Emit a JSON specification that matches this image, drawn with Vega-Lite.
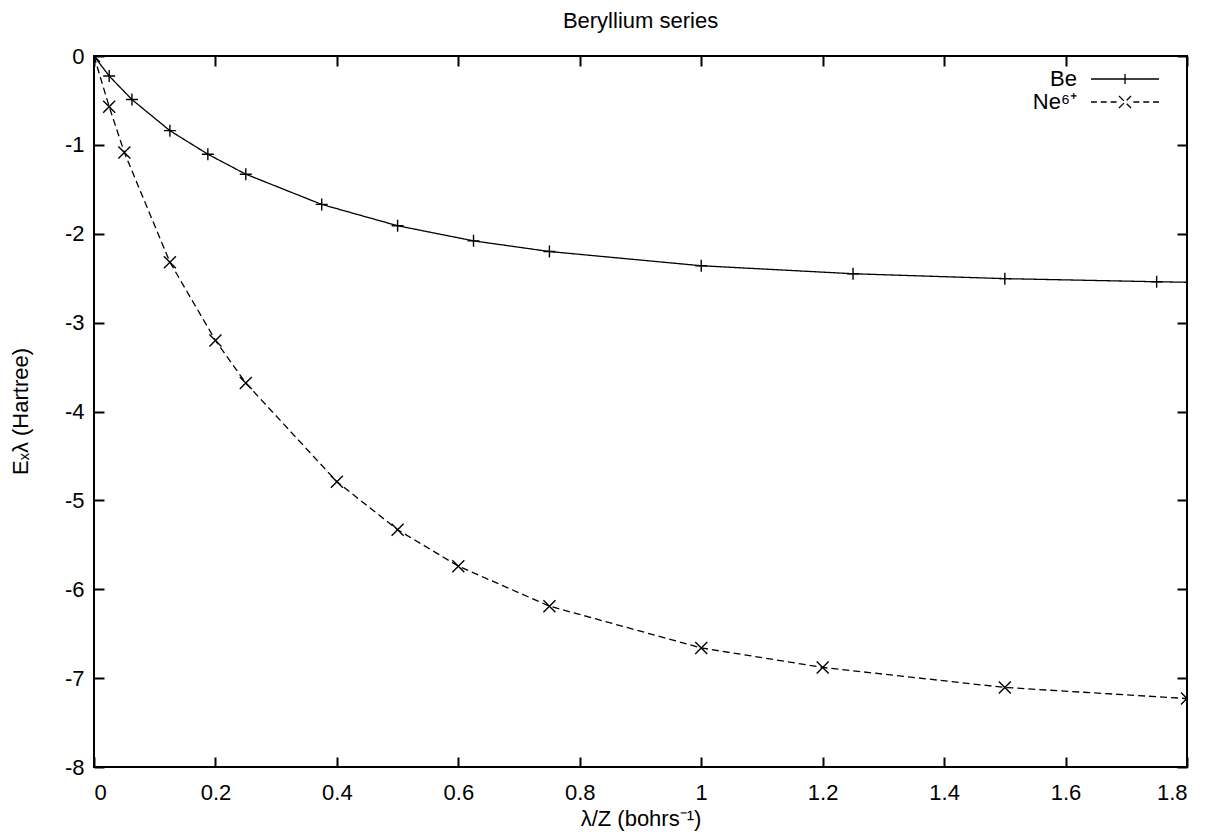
{
  "$schema": "https://vega.github.io/schema/vega-lite/v6.json",
  "width": 1093,
  "height": 711,
  "autosize": {"type": "none"},
  "padding": {"left": 94, "top": 56, "right": 19, "bottom": 73},
  "background": "white",
  "config": {
    "view": {"stroke": "black", "strokeWidth": 2},
    "font": "Liberation Sans",
    "axis": {"labelFont": "Liberation Sans", "labelFontSize": 22, "labelColor": "black", "titleFont": "Liberation Sans", "titleFontSize": 22, "titleFontWeight": "normal", "titleColor": "black", "tickColor": "black", "tickWidth": 2, "grid": false, "domain": false}
  },
  "data": {"values": [
    {"x": 0, "y": 0, "series": "Be"},
    {"x": 0.025, "y": -0.225, "series": "Be"},
    {"x": 0.0625, "y": -0.49, "series": "Be"},
    {"x": 0.125, "y": -0.84, "series": "Be"},
    {"x": 0.1875, "y": -1.105, "series": "Be"},
    {"x": 0.25, "y": -1.33, "series": "Be"},
    {"x": 0.375, "y": -1.67, "series": "Be"},
    {"x": 0.5, "y": -1.91, "series": "Be"},
    {"x": 0.625, "y": -2.08, "series": "Be"},
    {"x": 0.75, "y": -2.2, "series": "Be"},
    {"x": 1.0, "y": -2.36, "series": "Be"},
    {"x": 1.25, "y": -2.45, "series": "Be"},
    {"x": 1.5, "y": -2.505, "series": "Be"},
    {"x": 1.75, "y": -2.54, "series": "Be"},
    {"x": 2.0, "y": -2.57, "series": "Be"},
    {"x": 0, "y": 0, "series": "Ne6+"},
    {"x": 0.025, "y": -0.57, "series": "Ne6+"},
    {"x": 0.05, "y": -1.086, "series": "Ne6+"},
    {"x": 0.125, "y": -2.32, "series": "Ne6+"},
    {"x": 0.2, "y": -3.2, "series": "Ne6+"},
    {"x": 0.25, "y": -3.68, "series": "Ne6+"},
    {"x": 0.4, "y": -4.79, "series": "Ne6+"},
    {"x": 0.5, "y": -5.33, "series": "Ne6+"},
    {"x": 0.6, "y": -5.74, "series": "Ne6+"},
    {"x": 0.75, "y": -6.19, "series": "Ne6+"},
    {"x": 1.0, "y": -6.66, "series": "Ne6+"},
    {"x": 1.2, "y": -6.88, "series": "Ne6+"},
    {"x": 1.5, "y": -7.105, "series": "Ne6+"},
    {"x": 1.8, "y": -7.23, "series": "Ne6+"}
  ]},
  "resolve": {"axis": {"x": "independent", "y": "independent"}},
  "layer": [
    {
      "mark": {"type": "line", "clip": true, "strokeWidth": 1.3, "color": "black"},
      "encoding": {
        "x": {"field": "x", "type": "quantitative", "scale": {"domain": [0, 1.8], "nice": false, "zero": false},
          "axis": {"orient": "bottom", "values": [0, 0.2, 0.4, 0.6, 0.8, 1, 1.2, 1.4, 1.6, 1.8], "labelExpr": "'' + datum.value", "tickSize": -10, "labelPadding": 25, "title": "λ/Z (bohrs⁻¹)", "titleY": 58, "titleBaseline": "alphabetic"}},
        "y": {"field": "y", "type": "quantitative", "scale": {"domain": [-8, 0], "nice": false, "zero": false},
          "axis": {"orient": "left", "values": [0, -1, -2, -3, -4, -5, -6, -7, -8], "labelExpr": "'' + datum.value", "tickSize": -10, "labelPadding": 20, "title": "Eₓλ (Hartree)", "titleX": -67, "titleY": 355, "titleAngle": -90, "titleAlign": "center", "titleBaseline": "alphabetic"}},
        "strokeDash": {"field": "series", "type": "nominal", "scale": {"domain": ["Be", "Ne6+"], "range": [[1, 0], [7, 4]]},
          "legend": {"orient": "none", "legendX": 1019, "legendY": 11, "title": null, "padding": 0, "symbolType": "M-1,0H1", "symbolSize": 484, "symbolStrokeColor": "black", "symbolStrokeWidth": 1.3, "symbolFillColor": "transparent", "labelAlign": "right", "labelOffset": -60, "labelFontSize": 22, "labelFont": "Liberation Sans", "labelColor": "black", "labelExpr": "datum.label === 'Ne6+' ? 'Ne⁶⁺' : datum.label", "rowPadding": 0,
            "encode": {"symbols": {"update": {
              "shape": {"signal": "datum.value === 'Be' ? 'M-3.09,0H3.09M0,-0.45V0.45' : 'M-3.09,0H-2.55M-2.2,0H-1.66M-1.3,0H-0.76M-0.55,-0.55L0.55,0.55M-0.55,0.55L0.55,-0.55M0.76,0H1.3M1.66,0H2.2M2.55,0H3.09'"},
              "strokeDash": {"value": [1, 0]},
              "size": {"value": 484},
              "opacity": {"value": 1},
              "stroke": {"value": "black"},
              "fill": {"value": "transparent"}
            }}}}}
      }
    },
    {
      "transform": [{"filter": "datum.series === 'Be'"}],
      "mark": {"type": "point", "shape": "M-1,0H1M0,-1V1", "size": 144, "filled": false, "stroke": "black", "strokeWidth": 1.4, "opacity": 1, "clip": true},
      "encoding": {
        "x": {"field": "x", "type": "quantitative", "axis": null},
        "y": {"field": "y", "type": "quantitative", "axis": null}
      }
    },
    {
      "transform": [{"filter": "datum.series === 'Ne6+'"}],
      "mark": {"type": "point", "shape": "M-1,-1L1,1M-1,1L1,-1", "size": 144, "filled": false, "stroke": "black", "strokeWidth": 1.4, "opacity": 1, "clip": true},
      "encoding": {
        "x": {"field": "x", "type": "quantitative", "axis": null},
        "y": {"field": "y", "type": "quantitative", "axis": null}
      }
    },
    {
      "mark": {"type": "point", "opacity": 0, "filled": false, "clip": true},
      "encoding": {
        "x": {"field": "x", "type": "quantitative",
          "axis": {"orient": "top", "values": [0, 0.2, 0.4, 0.6, 0.8, 1, 1.2, 1.4, 1.6, 1.8], "labels": false, "tickSize": -10, "title": "Beryllium series", "titleX": 546, "titleY": -29, "titleBaseline": "alphabetic", "titleAlign": "center"}},
        "y": {"field": "y", "type": "quantitative",
          "axis": {"orient": "right", "values": [0, -1, -2, -3, -4, -5, -6, -7, -8], "labels": false, "tickSize": -10, "title": null}}
      }
    }
  ]
}
